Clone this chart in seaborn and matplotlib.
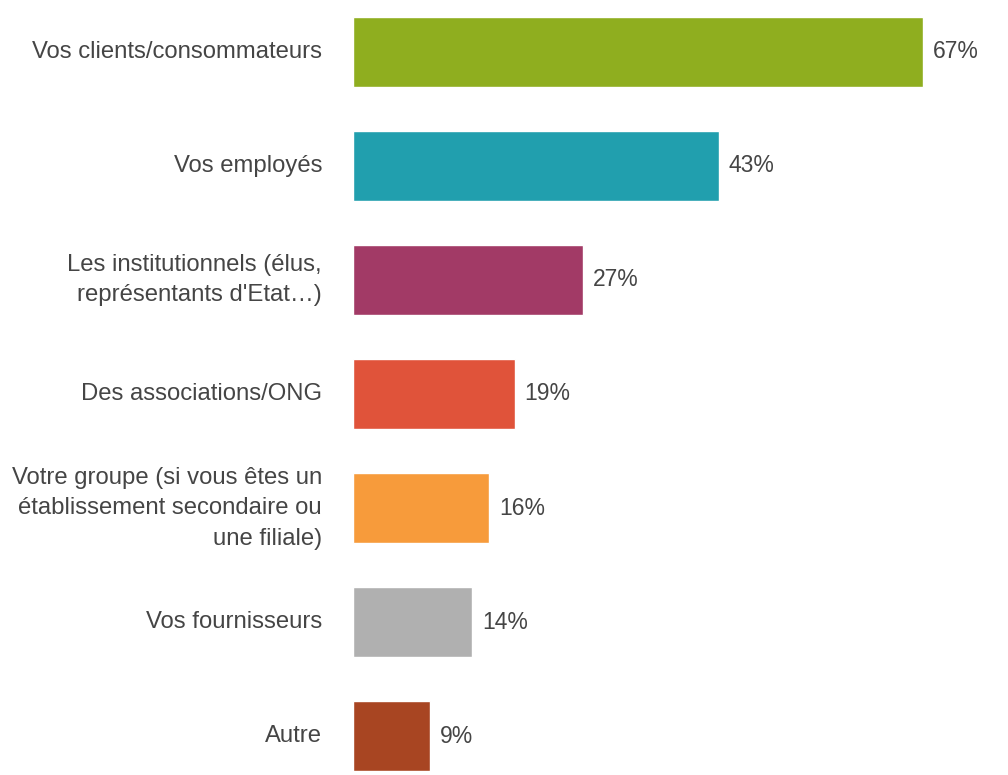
import matplotlib

matplotlib.use("Agg")
import matplotlib.pyplot as plt
import seaborn as sns
import pandas as pd

categories = [
    "Vos clients/consommateurs",
    "Vos employés",
    "Les institutionnels (élus,\nreprésentants d'Etat…)",
    "Des associations/ONG",
    "Votre groupe (si vous êtes un\nétablissement secondaire ou\nune filiale)",
    "Vos fournisseurs",
    "Autre",
]
values = [67, 43, 27, 19, 16, 14, 9]
colors = ["#8fae1f", "#219fae", "#a23a66", "#e0533a", "#f79b3b", "#b0b0b0", "#a84522"]

sns.set_theme(style="white")
plt.rcParams["font.family"] = ["Liberation Sans", "DejaVu Sans"]

df = pd.DataFrame({"cat": categories, "val": values})

fig = plt.figure(figsize=(10.08, 7.75), dpi=100)
W, H = 1008, 775
ax = fig.add_axes([353 / W, 4 / H, (W - 353) / W, (771 - 17) / H])

sns.barplot(data=df, x="val", y="cat", hue="cat", palette=colors, legend=False,
            saturation=1, width=0.614, ax=ax, orient="h")
ax.set_ylim(6.307, -0.307)
ax.set_xlim(0, 655 / 8.5)
ax.set_xlabel("")
ax.set_ylabel("")
ax.set_xticks([])
ax.set_yticks([])
sns.despine(ax=ax, left=True, bottom=True)

text_color = "#454545"
for i, (c, v) in enumerate(zip(categories, values)):
    ax.text(v + 1.2, i, f"{v}%", va="center", ha="left", fontsize=16.5, color=text_color)
    ax.text(-31 / 8.5, i, c, va="center", ha="right", fontsize=17.2, color=text_color,
            linespacing=1.5, clip_on=False)

fig.savefig("out.png", dpi=100)
